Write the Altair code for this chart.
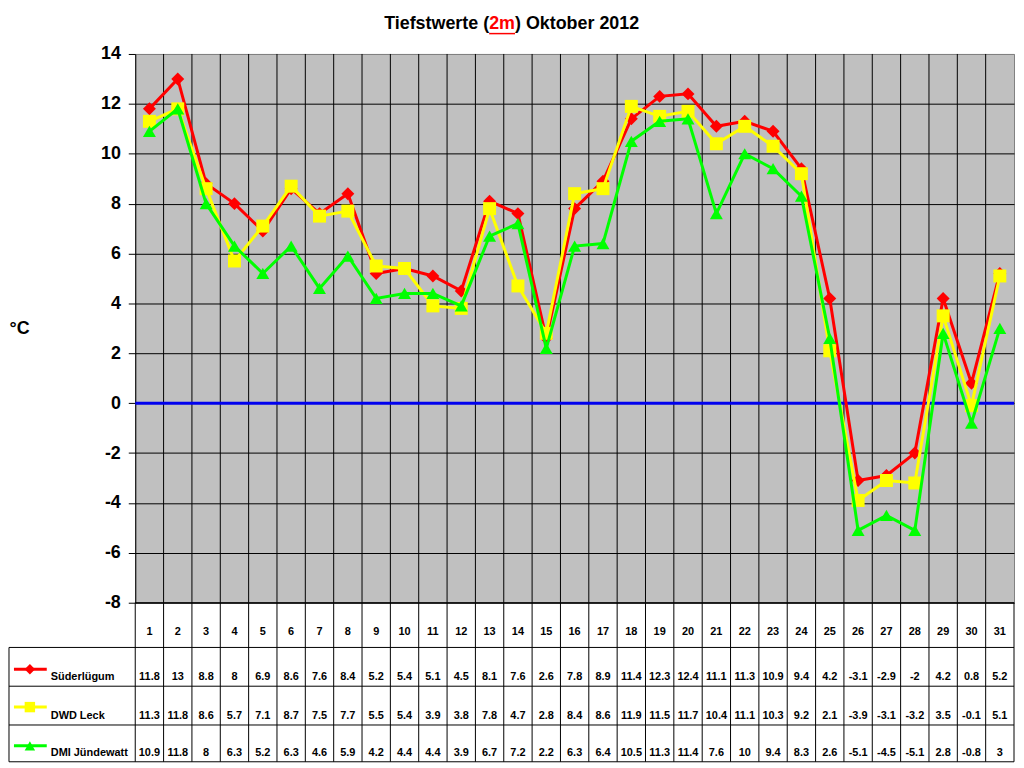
import altair as alt
import pandas as pd

# ---- data ----
days = list(range(1, 32))
suederluegum = [11.8, 13, 8.8, 8, 6.9, 8.6, 7.6, 8.4, 5.2, 5.4, 5.1, 4.5, 8.1, 7.6, 2.6, 7.8,
                8.9, 11.4, 12.3, 12.4, 11.1, 11.3, 10.9, 9.4, 4.2, -3.1, -2.9, -2, 4.2, 0.8, 5.2]
dwd_leck = [11.3, 11.8, 8.6, 5.7, 7.1, 8.7, 7.5, 7.7, 5.5, 5.4, 3.9, 3.8, 7.8, 4.7, 2.8, 8.4,
            8.6, 11.9, 11.5, 11.7, 10.4, 11.1, 10.3, 9.2, 2.1, -3.9, -3.1, -3.2, 3.5, -0.1, 5.1]
dmi_juendewatt = [10.9, 11.8, 8, 6.3, 5.2, 6.3, 4.6, 5.9, 4.2, 4.4, 4.4, 3.9, 6.7, 7.2, 2.2, 6.3,
                  6.4, 10.5, 11.3, 11.4, 7.6, 10, 9.4, 8.3, 2.6, -5.1, -4.5, -5.1, 2.8, -0.8, 3]
stations = ["Süderlügum", "DWD Leck", "DMI Jündewatt"]
colors = ["#FF0000", "#FFFF00", "#00FF00"]
shapes = ["diamond", "square", "triangle-up"]
y_ticks = list(range(-8, 15, 2))
title_parts = ["Tiefstwerte (", "2m", ") Oktober 2012"]
y_title = "°C"

series = dict(zip(stations, [suederluegum, dwd_leck, dmi_juendewatt]))

rows = []
for s in stations:
    for d, v in zip(days, series[s]):
        rows.append({"station": s, "day": d, "value": v, "label": f"{v:g}"})
long = pd.DataFrame(rows)
day_df = pd.DataFrame({"day": days})
bounds_df = pd.DataFrame({"b": [d - 0.5 for d in days] + [days[-1] + 0.5]})
inner_bounds = pd.DataFrame({"b": [d + 0.5 for d in days[:-1]]})
one = pd.DataFrame({"k": [0]})

# ---- layout ----
W, H, TH = 884, 552, 160
FONT = "Liberation Sans"
LEFT = -127
xdom = alt.Scale(domain=[0.5, 31.5], nice=False, zero=False)

x_top = alt.X("day:Q", scale=xdom, axis=None)
y_top = alt.Y("value:Q", scale=alt.Scale(domain=[-8, 14], nice=False, zero=False),
              axis=alt.Axis(values=y_ticks, labelFont=FONT, labelFontSize=18, labelFontWeight="bold",
                            labelColor="black", labelPadding=8, labelExpr="'' + datum.value",
                            tickColor="black", tickSize=7, domainColor="black", domainWidth=1,
                            grid=True,
                            gridColor={"condition": {"test": "datum.value > 13", "value": "#808080"},
                                       "value": "black"},
                            gridOpacity=1, gridWidth=1,
                            title=y_title, titleAngle=0, titleFont=FONT, titleFontSize=18,
                            titleFontWeight="bold", titleColor="black", titleAlign="left",
                            titleBaseline="middle", titleX=LEFT, titleY=276))

layers = [
    alt.Chart(inner_bounds).mark_rule(color="black", strokeWidth=1)
    .encode(x=alt.X("b:Q", scale=xdom, axis=None), y=alt.value(0), y2=alt.value(H)),
    alt.Chart(pd.DataFrame({"value": [0]})).mark_rule(color="#0000EE", strokeWidth=3).encode(y=y_top),
]
for s, c, sh in zip(stations, colors, shapes):
    d = long[long["station"] == s]
    layers.append(alt.Chart(d).mark_line(color=c, strokeWidth=3).encode(x=x_top, y=y_top))
    layers.append(alt.Chart(d).mark_point(color=c, filled=True, opacity=1, shape=sh, size=170)
                  .encode(x=x_top, y=y_top))

# title built from pieces (middle piece red, underlined)
tx = 356
TY = -30.5
layers.append(alt.Chart(one).mark_text(font=FONT, fontSize=18, fontWeight="bold", align="right",
                                       baseline="middle", color="black")
              .encode(x=alt.value(tx), y=alt.value(TY), text=alt.value(title_parts[0])))
layers.append(alt.Chart(one).mark_text(font=FONT, fontSize=18, fontWeight="bold", align="left",
                                       baseline="middle", color="#FF0000")
              .encode(x=alt.value(tx), y=alt.value(TY), text=alt.value(title_parts[1])))
layers.append(alt.Chart(one).mark_text(font=FONT, fontSize=18, fontWeight="bold", align="left",
                                       baseline="middle", color="black")
              .encode(x=alt.value(tx + 26), y=alt.value(TY), text=alt.value(title_parts[2])))
layers.append(alt.Chart(one).mark_rule(color="#FF0000", strokeWidth=1.5)
              .encode(x=alt.value(tx), x2=alt.value(tx + 26), y=alt.value(TY + 10)))

top = alt.layer(*layers).properties(width=W, height=H,
                                     view=alt.ViewBackground(fill="#C0C0C0", stroke="#808080"))

# ---- data table below ----
x_tab = alt.X("day:Q", scale=xdom, axis=None)
tl = []
tl.append(alt.Chart(bounds_df).mark_rule(color="black", strokeWidth=1)
          .encode(x=alt.X("b:Q", scale=xdom, axis=None), y=alt.value(0), y2=alt.value(TH)))
tl.append(alt.Chart(one).mark_rule(color="black", strokeWidth=1)
          .encode(x=alt.value(0), x2=alt.value(W), y=alt.value(0)))
for r in [45, 84, 123, TH]:
    tl.append(alt.Chart(one).mark_rule(color="black", strokeWidth=1)
              .encode(x=alt.value(LEFT), x2=alt.value(W), y=alt.value(r)))
tl.append(alt.Chart(one).mark_rule(color="black", strokeWidth=1)
          .encode(x=alt.value(LEFT), y=alt.value(45), y2=alt.value(TH)))
tl.append(alt.Chart(day_df).mark_text(font=FONT, fontSize=11, fontWeight="bold", color="black",
                                      baseline="middle")
          .encode(x=x_tab, y=alt.value(29), text="day:N"))

row_y = [75, 114, 151]
sym_y = [67, 105, 144]
for s, c, sh, ry, sy in zip(stations, colors, shapes, row_y, sym_y):
    d = long[long["station"] == s]
    tl.append(alt.Chart(d).mark_text(font=FONT, fontSize=11, fontWeight="bold", color="black",
                                     baseline="middle")
              .encode(x=x_tab, y=alt.value(ry), text="label:N"))
    tl.append(alt.Chart(one).mark_rule(color=c, strokeWidth=3)
              .encode(x=alt.value(-122), x2=alt.value(-89), y=alt.value(sy)))
    tl.append(alt.Chart(one).mark_point(color=c, filled=True, opacity=1, shape=sh, size=110)
              .encode(x=alt.value(-106), y=alt.value(sy)))
    tl.append(alt.Chart(one).mark_text(font=FONT, fontSize=11, fontWeight="bold", color="black",
                                       align="left", baseline="middle")
              .encode(x=alt.value(-85), y=alt.value(ry), text=alt.value(s)))

table = alt.layer(*tl).properties(width=W, height=TH,
                                   view=alt.ViewBackground(stroke="transparent"))

chart = alt.vconcat(top, table, spacing=0, bounds="flush").properties(
    padding={"left": 0, "top": 4, "right": 0, "bottom": 0},
    background="white",
)

chart.save("out.html", embed_options={"renderer": "svg", "actions": False})
